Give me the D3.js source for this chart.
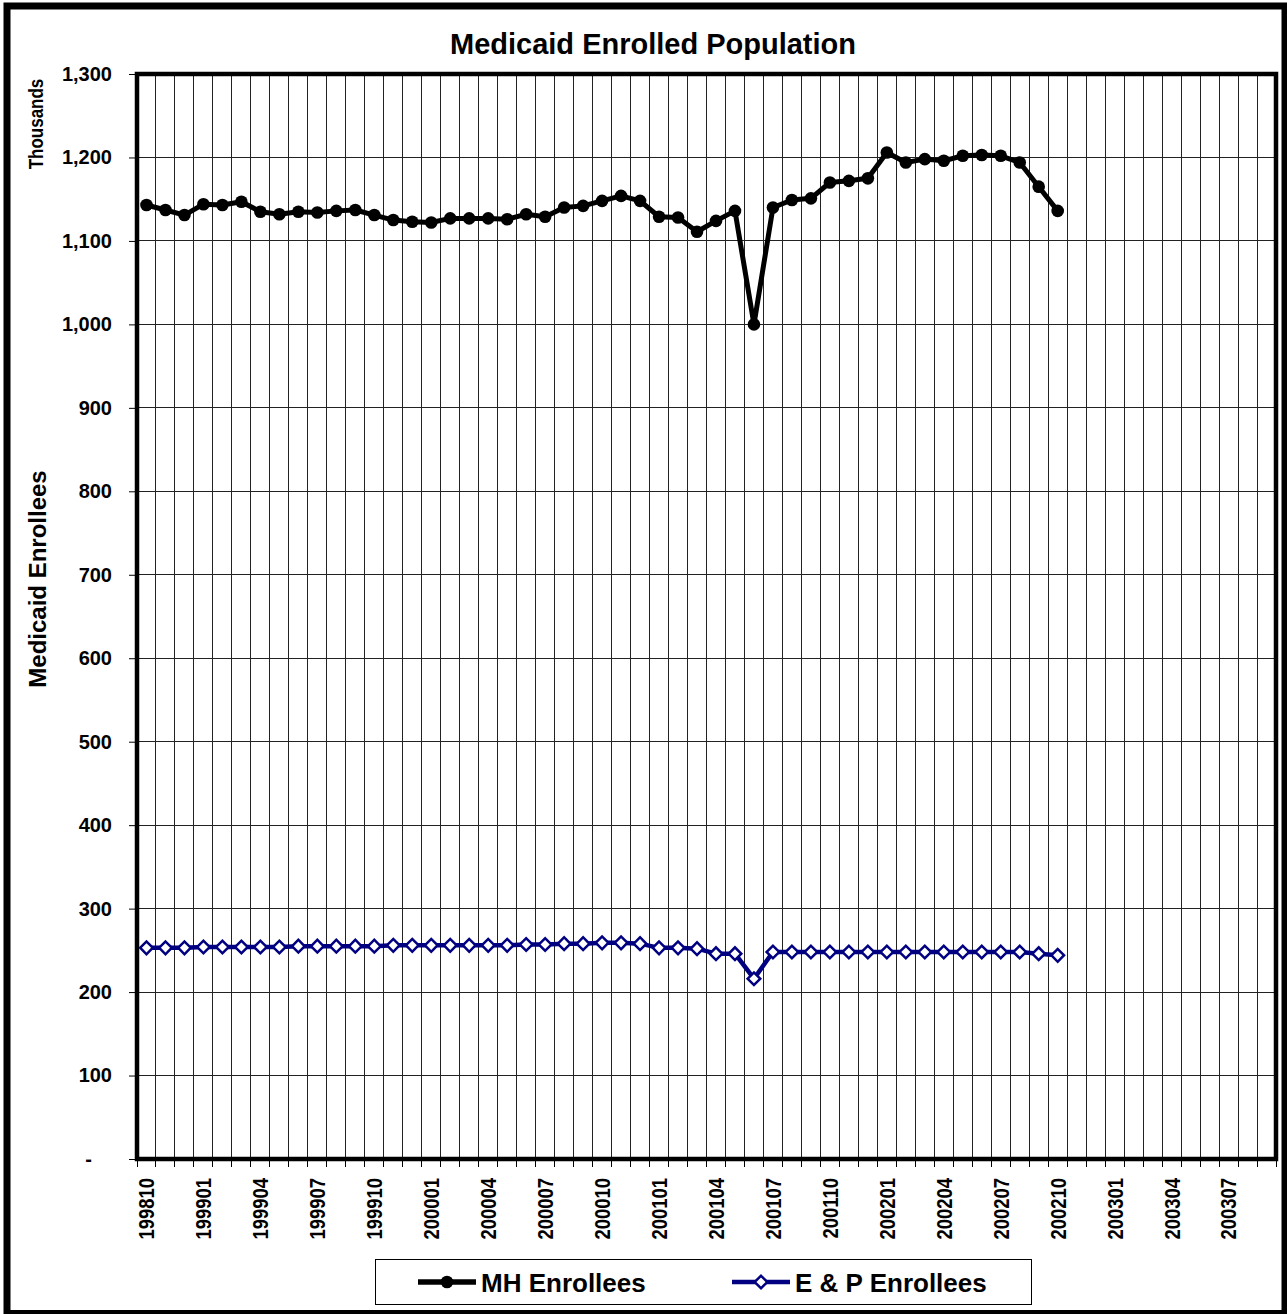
<!DOCTYPE html>
<html><head><meta charset="utf-8">
<script src="https://cdn.jsdelivr.net/npm/d3@7"></script>
<style>
html,body{margin:0;padding:0;background:#fff;}
text{font-family:"Liberation Sans",Arial,sans-serif;font-weight:bold;fill:#000;}
</style></head>
<body>
<svg id="chart" width="1287" height="1314"></svg>
<script>
const categories = ["199810","199811","199812",
 "199901","199902","199903","199904","199905","199906","199907","199908","199909","199910","199911","199912",
 "200001","200002","200003","200004","200005","200006","200007","200008","200009","200010","200011","200012",
 "200101","200102","200103","200104","200105","200106","200107","200108","200109","200110","200111","200112",
 "200201","200202","200203","200204","200205","200206","200207","200208","200209","200210","200211","200212",
 "200301","200302","200303","200304","200305","200306","200307","200308","200309"];
const tickLabels = ["199810","199901","199904","199907","199910","200001","200004","200007","200010",
 "200101","200104","200107","200110","200201","200204","200207","200210","200301","200304","200307"];
const yTicks = [0,100,200,300,400,500,600,700,800,900,1000,1100,1200,1300];
const mhValues = [1143,1137,1131,1144,1143,1147,1135,1132,1135,1134,1136,1137,1131,1125,1123,1122,
 1127,1127,1127,1126,1132,1129,1140,1142,1148,1154,1148,1129,1128,1111,1124,1136,1000,1140,1149,1151,
 1170,1172,1175,1206,1194,1198,1196,1202,1203,1202,1194,1165,1136];
const epValues = [253,253,253,254,254,254,254,254,255,255,255,255,255,256,256,256,256,256,256,256,
 257,257,258,258,259,259,258,253,253,252,246,246,216,248,248,248,248,248,248,248,248,248,248,248,
 248,248,248,246,244];
const seriesNames = ["MH Enrollees","E & P Enrollees"];

const svg = d3.select("#chart");
const L=137, R=1276, T=74, B=1159;
const x = d3.scaleBand().domain(categories).range([L,R]).padding(0);
const y = d3.scaleLinear().domain([0,1300]).range([B,T]);
const bw = x.bandwidth();

// outer border
svg.append("rect").attr("x",7).attr("y",6).attr("width",1278).attr("height",1307.5)
  .attr("fill","#fff").attr("stroke","#000").attr("stroke-width",7);

// gridlines horizontal
svg.append("g").selectAll("line").data(yTicks).join("line")
  .attr("x1",L).attr("x2",R).attr("y1",d=>y(d)).attr("y2",d=>y(d))
  .attr("stroke","#222").attr("stroke-width",1).attr("shape-rendering","crispEdges");
// gridlines vertical (category boundaries)
svg.append("g").selectAll("line").data(categories.slice(1)).join("line")
  .attr("x1",d=>x(d)).attr("x2",d=>x(d)).attr("y1",T).attr("y2",B)
  .attr("stroke","#222").attr("stroke-width",1).attr("shape-rendering","crispEdges");

// y axis
const yAxis = svg.append("g").attr("transform",`translate(${L},0)`)
  .call(d3.axisLeft(y).tickValues(yTicks).tickSize(8).tickPadding(17)
    .tickFormat(d=> d===0 ? "-" : d3.format(",")(d)));
yAxis.select(".domain").remove();
yAxis.selectAll(".tick line").attr("stroke","#000").attr("stroke-width",1);
yAxis.selectAll("text").style("font-size","20px").style("font-family","'Liberation Sans',Arial,sans-serif").style("font-weight","bold");
yAxis.selectAll(".tick").filter(d=>d===0).select("text").attr("x",-45);

// x axis tick marks at category boundaries
const bounds = categories.map(c=>x(c)).concat([x(categories[categories.length-1])+bw]);
svg.append("g").selectAll("line").data(bounds).join("line")
  .attr("x1",d=>d).attr("x2",d=>d).attr("y1",B).attr("y2",B+8)
  .attr("stroke","#000").attr("stroke-width",1).attr("shape-rendering","crispEdges");
// x labels
const xAxis = svg.append("g").attr("transform",`translate(0,${B})`)
  .call(d3.axisBottom(x).tickValues(tickLabels).tickSize(0).tickPadding(0));
xAxis.select(".domain").remove();
xAxis.selectAll("text")
  .attr("transform","rotate(-90) scale(0.84,1)").attr("text-anchor","end")
  .attr("x",-19/0.84).attr("y",0).attr("dy","0.36em")
  .style("font-size","22px").style("font-family","'Liberation Sans',Arial,sans-serif").style("font-weight","bold");

// plot frame
svg.append("rect").attr("x",L).attr("y",T).attr("width",R-L).attr("height",B-T)
  .attr("fill","none").attr("stroke","#000").attr("stroke-width",4.5);

// series
const cx = (d,i)=> x(categories[i]) + bw/2;
const line = d3.line().x(cx).y(d=>y(d));
svg.append("path").datum(epValues).attr("d",line).attr("fill","none")
  .attr("stroke","#000080").attr("stroke-width",4.5).attr("stroke-linejoin","round");
const dia = d3.symbol().type(d3.symbolSquare).size(80);
svg.append("g").selectAll("path").data(epValues).join("path")
  .attr("d",dia).attr("transform",(d,i)=>`translate(${cx(d,i)},${y(d)}) rotate(45)`)
  .attr("fill","#fff").attr("stroke","#000080").attr("stroke-width",2.5);

svg.append("path").datum(mhValues).attr("d",line).attr("fill","none")
  .attr("stroke","#000").attr("stroke-width",5).attr("stroke-linejoin","round");
svg.append("g").selectAll("circle").data(mhValues).join("circle")
  .attr("cx",cx).attr("cy",d=>y(d)).attr("r",6.3).attr("fill","#000");

// title
svg.append("text").attr("x",653).attr("y",54).attr("text-anchor","middle")
  .style("font-size","29px").text("Medicaid Enrolled Population");
// axis titles
svg.append("text").attr("transform","translate(43,124) rotate(-90) scale(0.85,1)").attr("text-anchor","middle")
  .style("font-size","20px").text("Thousands");
svg.append("text").attr("transform","translate(46,579) rotate(-90)").attr("text-anchor","middle")
  .style("font-size","24px").text("Medicaid Enrollees");

// legend
const lg = svg.append("g");
lg.append("rect").attr("x",375.5).attr("y",1259.5).attr("width",656).attr("height",45)
  .attr("fill","#fff").attr("stroke","#000").attr("stroke-width",1);
lg.append("line").attr("x1",418).attr("x2",476).attr("y1",1282).attr("y2",1282)
  .attr("stroke","#000").attr("stroke-width",5.5);
lg.append("circle").attr("cx",447).attr("cy",1282).attr("r",6.3).attr("fill","#000");
lg.append("text").attr("x",481).attr("y",1292).style("font-size","26px").text(seriesNames[0]);
lg.append("line").attr("x1",732).attr("x2",790).attr("y1",1282).attr("y2",1282)
  .attr("stroke","#000080").attr("stroke-width",4.5);
lg.append("path").attr("d",dia).attr("transform","translate(761,1282) rotate(45)")
  .attr("fill","#fff").attr("stroke","#000080").attr("stroke-width",2.5);
lg.append("text").attr("x",795).attr("y",1292).style("font-size","26px").text(seriesNames[1]);
</script>
</body></html>
